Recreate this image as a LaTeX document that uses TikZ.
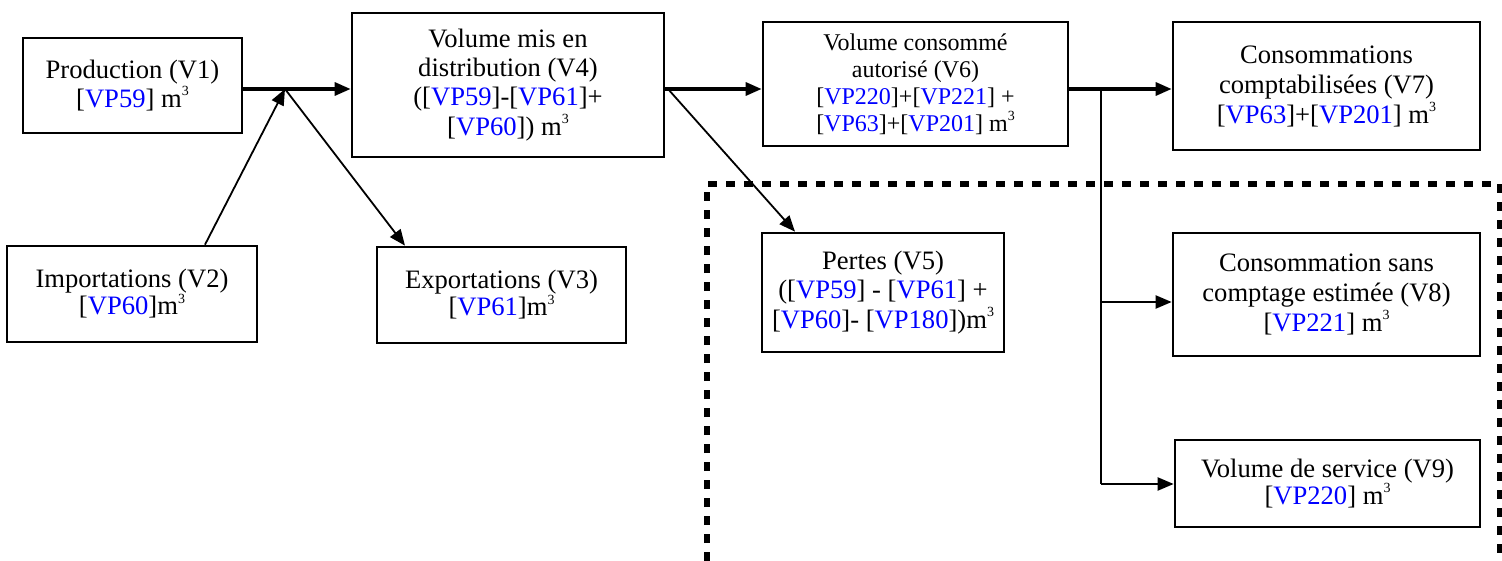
\documentclass[tikz,border=0pt]{standalone}
\usepackage{fontspec}
\setmainfont{Liberation Serif}
\usetikzlibrary{arrows.meta}
\newcommand{\vp}[1]{[\textcolor{blue}{#1}]}
\newcommand{\mcube}{m\raisebox{0.95ex}{\fontsize{7}{7}\selectfont 3}}
\begin{document}
\begin{tikzpicture}[x=0.5pt,y=-0.5pt,
  box/.style={draw,line width=1.35pt,align=center,inner sep=0pt,font=\fontsize{13.3}{14.6}\selectfont},
  thick arrow/.style={line width=1.6pt,-{Triangle[length=8pt,width=6.5pt]}},
  thin arrow/.style={line width=0.9pt,-{Triangle[length=8pt,width=6.5pt]}},
  branch/.style={line width=1.1pt},
  branch arrow/.style={line width=1.1pt,-{Triangle[length=8pt,width=6.5pt]}},
  lossframe/.style={line width=2.8pt,dash pattern=on 4.5pt off 4.5pt}]
\useasboundingbox (0,0) rectangle (1502,561);
% nodes
\node[box,minimum width=109.5pt,minimum height=47.5pt,font=\fontsize{13.3}{13}\selectfont] (prod) at (132.5,85.5) {Production (V1)\\\vp{VP59} \mcube};
\node[box,minimum width=125pt,minimum height=48pt,font=\fontsize{13.3}{13.5}\selectfont] (imp) at (132,294) {Importations (V2)\\\vp{VP60}\mcube};
\node[box,minimum width=124.5pt,minimum height=48pt,font=\fontsize{13.3}{13.5}\selectfont] (exp) at (501.5,295) {Exportations (V3)\\\vp{VP61}\mcube};
\node[box,minimum width=156pt,minimum height=72pt] (v4) at (508,85) {Volume mis en\\distribution (V4)\\(\vp{VP59}-\vp{VP61}+\\\vp{VP60}) \mcube};
\node[box,minimum width=152.5pt,minimum height=62pt,font=\fontsize{12}{13.5}\selectfont] (v6) at (915.5,84) {Volume consommé\\autorisé (V6)\\\vp{VP220}+\vp{VP221} +\\\vp{VP63}+\vp{VP201} \mcube};
\node[box,minimum width=153.5pt,minimum height=64pt,font=\fontsize{13.3}{15}\selectfont] (v7) at (1326.5,86) {Consommations\\comptabilisées (V7)\\\vp{VP63}+\vp{VP201} \mcube};
\node[box,minimum width=121pt,minimum height=59.5pt] (v5) at (883,292.5) {Pertes (V5)\\(\vp{VP59} - \vp{VP61} +\\\vp{VP60}- \vp{VP180})\mcube};
\node[box,minimum width=153.5pt,minimum height=61.5pt,font=\fontsize{13.3}{15}\selectfont] (v8) at (1326.5,294.5) {Consommation sans\\comptage estimée (V8)\\\vp{VP221} \mcube};
\node[box,minimum width=152.5pt,minimum height=43.5pt,font=\fontsize{13.3}{13.5}\selectfont] (v9) at (1327.5,483.5) {Volume de service (V9)\\\vp{VP220} \mcube};
% junctions
\coordinate (j1) at (285,89);
\coordinate (j2) at (668,89);
\coordinate (j3) at (1101,89);
\coordinate (b8) at (1101,302);
\coordinate (b9) at (1101,484);
% connectors
\draw[thick arrow] (prod.east |- j1) -- (v4.west |- j1);
\draw[thin arrow] ([xshift=36.5pt]imp.north) -- (j1);
\draw[thin arrow] (j1) -- ([xshift=-48.25pt]exp.north);
\draw[thick arrow] (v4.east |- j1) -- (v6.west |- j1);
\draw[thin arrow] (j2) -- ([xshift=-44pt]v5.north);
\draw[thick arrow] (v6.east |- j1) -- (v7.west |- j1);
\draw[branch] (j3) -- (b9);
\draw[branch arrow] (b8) -- (v8.west |- b8);
\draw[branch arrow] (b9) -- (v9.west |- b9);
% dashed frame
\begin{scope}
\clip (0,0) rectangle (1502,561);
\draw[lossframe] (707,561) -- (707,184) -- (1500,184) -- (1500,561);
\end{scope}
\end{tikzpicture}
\end{document}
